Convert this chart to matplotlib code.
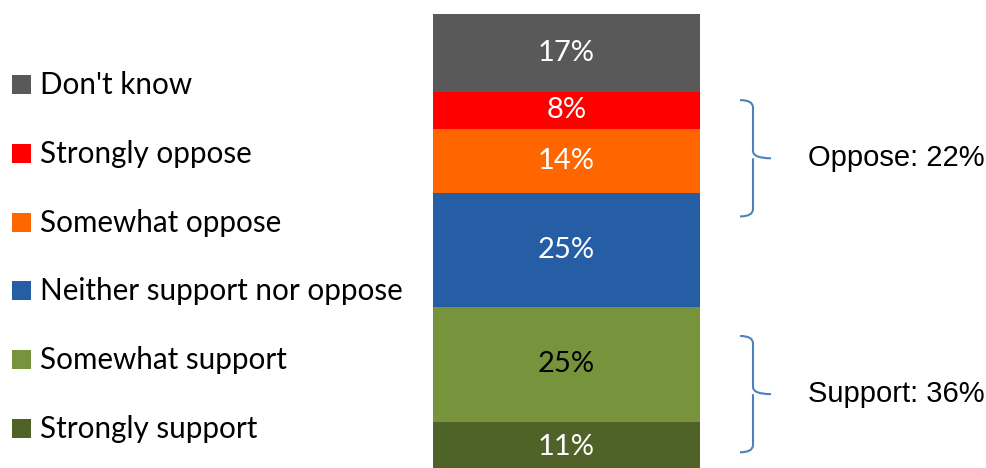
import matplotlib
matplotlib.use('Agg')
import matplotlib.pyplot as plt
import matplotlib.transforms as mtransforms
from matplotlib.patches import Rectangle, PathPatch
from matplotlib.path import Path

# Survey responses, bottom of the stack first
categories = ['Strongly support', 'Somewhat support', 'Neither support nor oppose',
              'Somewhat oppose', 'Strongly oppose', "Don't know"]
shares = [11, 25, 25, 14, 8, 17]
colors = ['#4F6228', '#77933C', '#255EA5', '#FF6600', '#FF0000', '#595959']
label_colors = ['white', 'black', 'white', 'white', 'white', 'white']

# Grouped totals shown beside the bar
groups = [('Support', [0, 1]), ('Oppose', [3, 4])]
# nudge for each brace so it sits a touch below the group centre
brace_shift = {'Support': -1.0, 'Oppose': -3.5}

LABEL_FONT = ['Lato', 'DejaVu Sans']
NOTE_FONT = ['Liberation Sans', 'DejaVu Sans']

fig = plt.figure(figsize=(9.87, 4.68), dpi=100, facecolor='white')
W, H = 987, 468

# bar axes placed in pixel terms (bottom runs slightly past the canvas)
left, right, top_px, bot_px = 433, 700, 14, 472
ax = fig.add_axes([left / W, 1 - bot_px / H, (right - left) / W, (bot_px - top_px) / H])
ax.set_xlim(-0.5, 0.5)
ax.set_ylim(0, 100)
ax.axis('off')

bottom = 0
for share, col, tcol in zip(shares, colors, label_colors):
    ax.bar(0, share, width=1.0, bottom=bottom, color=col, linewidth=0)
    ax.text(0, bottom + share / 2, f'{share}%', ha='center', va='center',
            fontsize=21, color=tcol, family=LABEL_FONT)
    bottom += share

# legend, top entry first
row_y = [85, 154, 223, 291, 360, 429]
for y, cat, col in zip(row_y, categories[::-1], colors[::-1]):
    fig.patches.append(Rectangle((12 / W, 1 - (y + 9) / H), 19 / W, 19 / H,
                                 transform=fig.transFigure, facecolor=col,
                                 edgecolor='none'))
    fig.text(40 / W, 1 - y / H, cat, ha='left', va='center', fontsize=21.3,
             color='black', family=LABEL_FONT)


def curly_brace(y_lo, y_hi, x0=740, x1=753, x_tip=771):
    """Right-facing curly brace between two data heights."""
    trans = mtransforms.blended_transform_factory(fig.transFigure, ax.transData)
    fx = lambda px: px / W
    mid = (y_lo + y_hi) / 2
    r = 1.6
    verts = [
        (fx(x0), y_hi),
        (fx(x1), y_hi), (fx(x1), y_hi - r),
        (fx(x1), mid + r),
        (fx(x1), mid), (fx(x_tip), mid),
        (fx(x1), mid), (fx(x1), mid - r),
        (fx(x1), y_lo + r),
        (fx(x1), y_lo), (fx(x0), y_lo),
    ]
    codes = [Path.MOVETO,
             Path.CURVE3, Path.CURVE3,
             Path.LINETO,
             Path.CURVE3, Path.CURVE3,
             Path.MOVETO, Path.CURVE3,
             Path.LINETO,
             Path.CURVE3, Path.CURVE3]
    patch = PathPatch(Path(verts, codes), transform=trans, facecolor='none',
                      edgecolor='#4F81BD', linewidth=1.5, clip_on=False)
    fig.patches.append(patch)
    return mid


starts = [sum(shares[:i]) for i in range(len(shares))]
note_trans = mtransforms.blended_transform_factory(fig.transFigure, ax.transData)
for name, idx in groups:
    lo = starts[idx[0]]
    hi = starts[idx[-1]] + shares[idx[-1]]
    total = sum(shares[i] for i in idx)
    center = (lo + hi) / 2 + brace_shift[name]
    mid = curly_brace(center - 12.7, center + 12.7)
    ax.text(808 / W, mid, f'{name}: {total}%', transform=note_trans, ha='left',
            va='center', fontsize=21, color='black', family=NOTE_FONT)

fig.savefig('out.png', dpi=100, facecolor='white')
